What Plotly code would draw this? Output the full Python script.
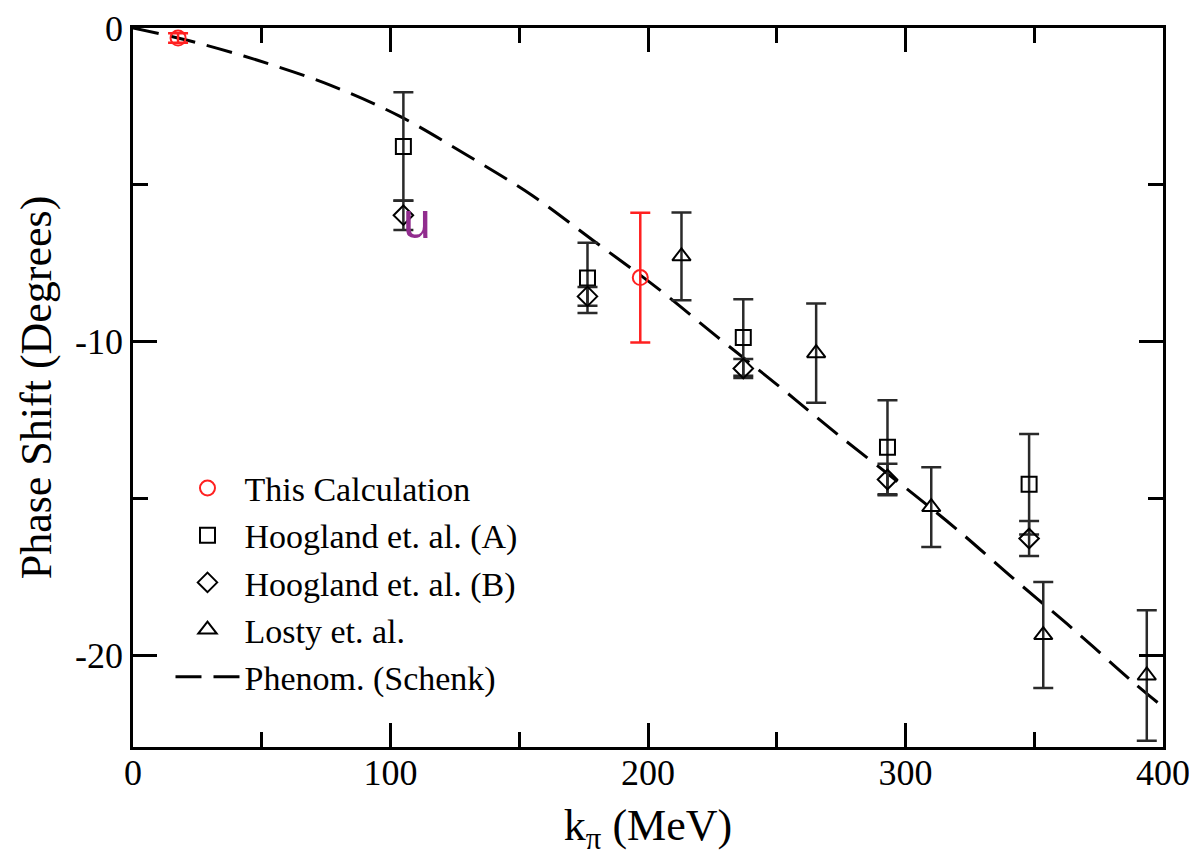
import plotly.graph_objects as go

# ---- data ----
calc_k = [17.5, 197.0]
calc_phase = [-0.32, -7.96]
calc_err = [0.15, 2.07]

hoogA_k = [105.0, 176.5, 237.0, 293.0, 348.0]
hoogA_phase = [-3.78, -7.97, -9.87, -13.37, -14.55]
hoogA_err = [1.73, 1.12, 1.22, 1.50, 1.60]

hoogB_k = [105.0, 176.5, 237.0, 293.0, 348.0]
hoogB_phase = [-5.97, -8.56, -10.86, -14.40, -16.28]
hoogB_err = [0.47, 0.30, 0.30, 0.50, 0.56]

losty_k = [213.0, 265.3, 310.0, 353.5, 393.7]
losty_phase = [-7.28, -10.37, -15.28, -19.36, -20.65]
losty_err = [1.40, 1.58, 1.27, 1.69, 2.08]

schenk_k = [0, 21.5, 48.4, 76.8, 103.7, 129.6, 155.2, 179.1, 203.4, 226.9,
            250.2, 273.5, 299.8, 320.1, 342.5, 365.1, 387.5, 400]
schenk_phase = [0, -0.40, -1.03, -1.83, -2.82, -4.05, -5.35, -6.80, -8.28, -9.85,
                -11.38, -12.95, -14.65, -16.00, -17.60, -19.17, -20.80, -21.65]

x_ticks = [0, 100, 200, 300, 400]
x_ticktext = ["0", "100", "200", "300", "400"]
y_ticks = [0, -10, -20]
y_ticktext = ["0", "-10", "-20"]

FONT = "Liberation Serif"
ERR_COLOR = "#2a2a2a"

fig = go.Figure()

fig.add_trace(go.Scatter(
    x=schenk_k, y=schenk_phase, mode="lines", name="Phenom. (Schenk)",
    line=dict(color="black", width=3, dash="26px,12px", shape="spline"),
    legendrank=5,
))

def err(vals, color):
    return dict(type="data", array=vals, visible=True, color=color,
                thickness=2.5, width=10)

fig.add_trace(go.Scatter(
    x=hoogA_k, y=hoogA_phase, mode="markers", name="Hoogland et. al. (A)",
    marker=dict(symbol="square-open", size=15, color="black",
                line=dict(width=2, color="black")),
    error_y=err(hoogA_err, ERR_COLOR), legendrank=2,
))
fig.add_trace(go.Scatter(
    x=hoogB_k, y=hoogB_phase, mode="markers", name="Hoogland et. al. (B)",
    marker=dict(symbol="diamond-open", size=15, color="black",
                line=dict(width=2, color="black")),
    error_y=err(hoogB_err, ERR_COLOR), legendrank=3,
))
fig.add_trace(go.Scatter(
    x=losty_k, y=losty_phase, mode="markers", name="Losty et. al.",
    marker=dict(symbol="triangle-up-open", size=16, color="black",
                line=dict(width=2, color="black")),
    error_y=err(losty_err, ERR_COLOR), legendrank=4,
))
fig.add_trace(go.Scatter(
    x=calc_k, y=calc_phase, mode="markers", name="This Calculation",
    marker=dict(symbol="circle-open", size=15, color="#ff2020",
                line=dict(width=2, color="#ff2020")),
    error_y=err(calc_err, "#ff2020"), legendrank=1,
))

fig.add_annotation(x=110.2, y=-6.17, xref="x", yref="y", text="u",
                   showarrow=False, xanchor="center", yanchor="middle",
                   font=dict(family="Liberation Sans", size=50, color="#912c8e"))

axis_common = dict(
    showgrid=False, zeroline=False, showline=True, linecolor="black", linewidth=2.5,
    mirror="ticks", ticks="inside", ticklen=24, tickwidth=2.5, tickcolor="black",
    tickfont=dict(family=FONT, size=36, color="black"),
)

fig.update_xaxes(
    range=[0, 400], tickmode="array", tickvals=x_ticks, ticktext=x_ticktext,
    minor=dict(dtick=50, ticks="inside", ticklen=15, tickwidth=2.5, tickcolor="black"),
    title=dict(text="k<sub>π</sub> (MeV)", font=dict(family=FONT, size=44, color="black"),
               standoff=24),
    ticklabelstandoff=-8,
    **axis_common,
)
fig.update_yaxes(
    range=[-22.93, 0], tickmode="array", tickvals=y_ticks, ticktext=y_ticktext,
    minor=dict(dtick=5, ticks="inside", ticklen=15, tickwidth=2.5, tickcolor="black"),
    title=dict(text="Phase Shift (Degrees)", font=dict(family=FONT, size=44, color="black"),
               standoff=10),
    ticklabelstandoff=0,
    **axis_common,
)

# the page body has an 8 px margin, so the figure is sized and padded to compensate
fig.update_layout(
    width=1189, height=848,
    margin=dict(l=125, r=34, t=20, b=109, autoexpand=False),
    paper_bgcolor="white", plot_bgcolor="white",
    showlegend=True,
    legend=dict(x=0.0364, y=0.40, xanchor="left", yanchor="top",
                bgcolor="rgba(0,0,0,0)", borderwidth=0, itemwidth=64,
                font=dict(family=FONT, size=34, color="black"),
                tracegroupgap=0),
)

fig.write_html("out.html")
